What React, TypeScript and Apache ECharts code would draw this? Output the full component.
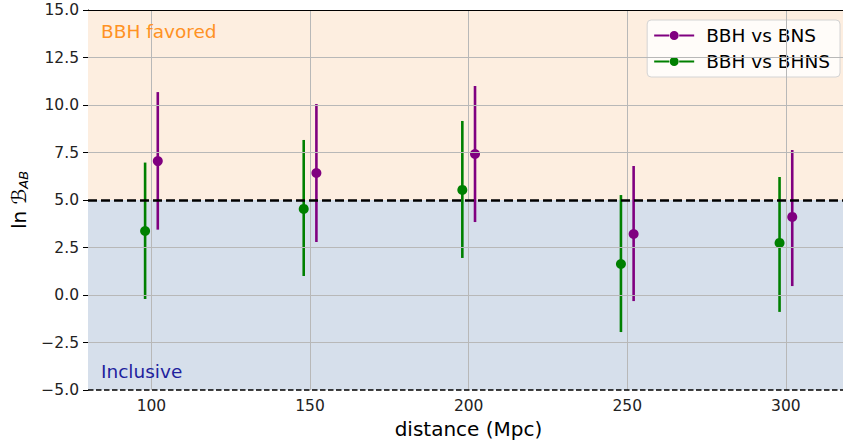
import React, { useEffect, useRef } from 'react';
import * as echarts from 'echarts';

// x positions (Mpc), slightly offset per series as in the reference
const bnsX = [102, 152, 202, 252, 302];
const bhnsX = [98, 148, 198, 248, 298];

const bnsMid = [7.05, 6.42, 7.42, 3.21, 4.11];
const bnsLo = [3.44, 2.79, 3.84, -0.32, 0.47];
const bnsHi = [10.68, 10.05, 11.0, 6.79, 7.63];

const bhnsMid = [3.37, 4.53, 5.53, 1.63, 2.74];
const bhnsLo = [-0.21, 1.0, 1.95, -1.95, -0.89];
const bhnsHi = [6.97, 8.16, 9.16, 5.26, 6.21];

const xTicks = [100, 150, 200, 250, 300];
const yGrid = [-2.5, 0, 2.5, 7.5, 10, 12.5];
const seriesNames = ['BBH vs BNS', 'BBH vs BHNS'];
const colors = ['#800080', '#008000'];

const FONT = 'DejaVu Sans';
const legendIcon =
  'path://M0,4 L15,4 L15,6 L0,6 Z M25,4 L40,4 L40,6 L25,6 Z M15.5,5 A4.5,4.5 0 1 1 24.5,5 A4.5,4.5 0 1 1 15.5,5 Z';

function errBarSeries(xs: number[], lo: number[], hi: number[], color: string) {
  return {
    type: 'custom',
    z: 3,
    data: xs.map((x, i) => [x, lo[i], hi[i]]),
    encode: { x: 0, y: [1, 2] },
    renderItem: (params: any, api: any) => {
      const p1 = api.coord([api.value(0), api.value(1)]);
      const p2 = api.coord([api.value(0), api.value(2)]);
      return {
        type: 'line',
        shape: { x1: p1[0], y1: p1[1], x2: p2[0], y2: p2[1] },
        style: { stroke: color, lineWidth: 2.6 },
      };
    },
    silent: true,
  };
}

export default function App() {
  const ref = useRef<HTMLDivElement>(null);
  useEffect(() => {
    document.body.style.margin = '0';
    const chart = echarts.init(ref.current!, null, { renderer: 'svg' });
    const fmt = (v: number) => v.toFixed(1).replace('-', '\u2212');
    chart.setOption({
      animation: false,
      textStyle: { fontFamily: FONT },
      grid: {
        left: 88,
        top: 10,
        right: 0,
        bottom: 55,
        show: false,
      },
      legend: {
        orient: 'vertical',
        right: 3,
        top: 20,
        padding: [6, 10, 6, 7],
        itemGap: 7,
        itemWidth: 40,
        itemHeight: 10,
        backgroundColor: 'rgba(255,255,255,0.8)',
        borderColor: '#d4d4d4',
        borderWidth: 1,
        borderRadius: 4,
        textStyle: { fontSize: 18.5, color: '#000', fontFamily: FONT, padding: [0, 0, 0, 7] },
        data: seriesNames.map((n) => ({ name: n, icon: legendIcon })),
      },
      xAxis: {
        type: 'value',
        min: 80,
        max: 318,
        name: 'distance (Mpc)',
        nameLocation: 'middle',
        nameGap: 28,
        nameTextStyle: { fontSize: 20, color: '#000', fontFamily: FONT, padding: [0, 0, 0, 6] },
        axisLine: { show: true, lineStyle: { color: '#000', width: 1 } },
        axisTick: { show: true, length: 5, lineStyle: { color: '#000' }, customValues: xTicks },
        axisLabel: { fontSize: 15.5, color: '#222', margin: 8, customValues: xTicks },
        splitLine: { show: false },
      },
      yAxis: {
        type: 'value',
        min: -5,
        max: 15,
        interval: 2.5,
        name: '{a|ln }{b|ℬ}{c|AB}',
        nameLocation: 'middle',
        nameGap: 56,
        nameTextStyle: {
          color: '#000',
          rich: {
            a: { fontSize: 20, fontFamily: FONT, color: '#000' },
            b: { fontSize: 20, fontFamily: FONT, fontStyle: 'italic', color: '#000' },
            c: { fontSize: 13, fontFamily: FONT, fontStyle: 'italic', color: '#000', padding: [10, 0, 0, 0] },
          },
        },
        axisLine: { show: true, lineStyle: { color: '#000', width: 1 } },
        axisTick: { show: true, length: 5, lineStyle: { color: '#000' } },
        axisLabel: { fontSize: 15.5, color: '#222', margin: 9, formatter: fmt },
        splitLine: { show: false },
      },
      series: [
        // background bands
        {
          type: 'line',
          z: -2,
          silent: true,
          data: [],
          markArea: {
            silent: true,
            data: [
              [{ yAxis: 5, itemStyle: { color: '#fdeee0' } }, { yAxis: 15 }],
              [{ yAxis: -5, itemStyle: { color: '#d6dfeb' } }, { yAxis: 5 }],
            ],
          },
        },
        // grid lines and top spine
        {
          type: 'line',
          z: 1,
          silent: true,
          data: [],
          markLine: {
            silent: true,
            symbol: 'none',
            label: { show: false },
            lineStyle: { color: '#b8b8b8', width: 1, type: 'solid' },
            data: [
              ...xTicks.map((x) => ({ xAxis: x })),
              ...yGrid.map((y) => ({ yAxis: y })),
              { yAxis: 15, lineStyle: { color: '#000', width: 1, type: 'solid' } },
            ],
          },
        },
        errBarSeries(bnsX, bnsLo, bnsHi, colors[0]),
        errBarSeries(bhnsX, bhnsLo, bhnsHi, colors[1]),
        {
          name: seriesNames[0],
          type: 'scatter',
          z: 4,
          symbolSize: 10,
          itemStyle: { color: colors[0], opacity: 1 },
          data: bnsX.map((x, i) => [x, bnsMid[i]]),
        },
        {
          name: seriesNames[1],
          type: 'scatter',
          z: 4,
          symbolSize: 10,
          itemStyle: { color: colors[1], opacity: 1 },
          data: bhnsX.map((x, i) => [x, bhnsMid[i]]),
        },
        // dashed threshold lines
        {
          type: 'line',
          z: 5,
          silent: true,
          data: [],
          markLine: {
            silent: true,
            symbol: 'none',
            label: { show: false },
            data: [
              { yAxis: 5, lineStyle: { color: '#000', width: 2.6, type: [9, 4] } },
              { yAxis: -5, lineStyle: { color: '#000', width: 1.5, type: [5.5, 2.5] } },
            ],
          },
        },
      ],
      graphic: {
        elements: [
          {
            type: 'text',
            left: 101,
            top: 22,
            z: 100,
            silent: true,
            style: { text: 'BBH favored', fill: '#ff9224', fontSize: 18.5, fontFamily: FONT },
          },
          {
            type: 'text',
            left: 101,
            top: 362,
            z: 100,
            silent: true,
            style: { text: 'Inclusive', fill: '#1f1f9e', fontSize: 18.5, fontFamily: FONT },
          },
        ],
      },
    });
    return () => chart.dispose();
  }, []);
  return <div ref={ref} style={{ width: 843, height: 445 }} />;
}
